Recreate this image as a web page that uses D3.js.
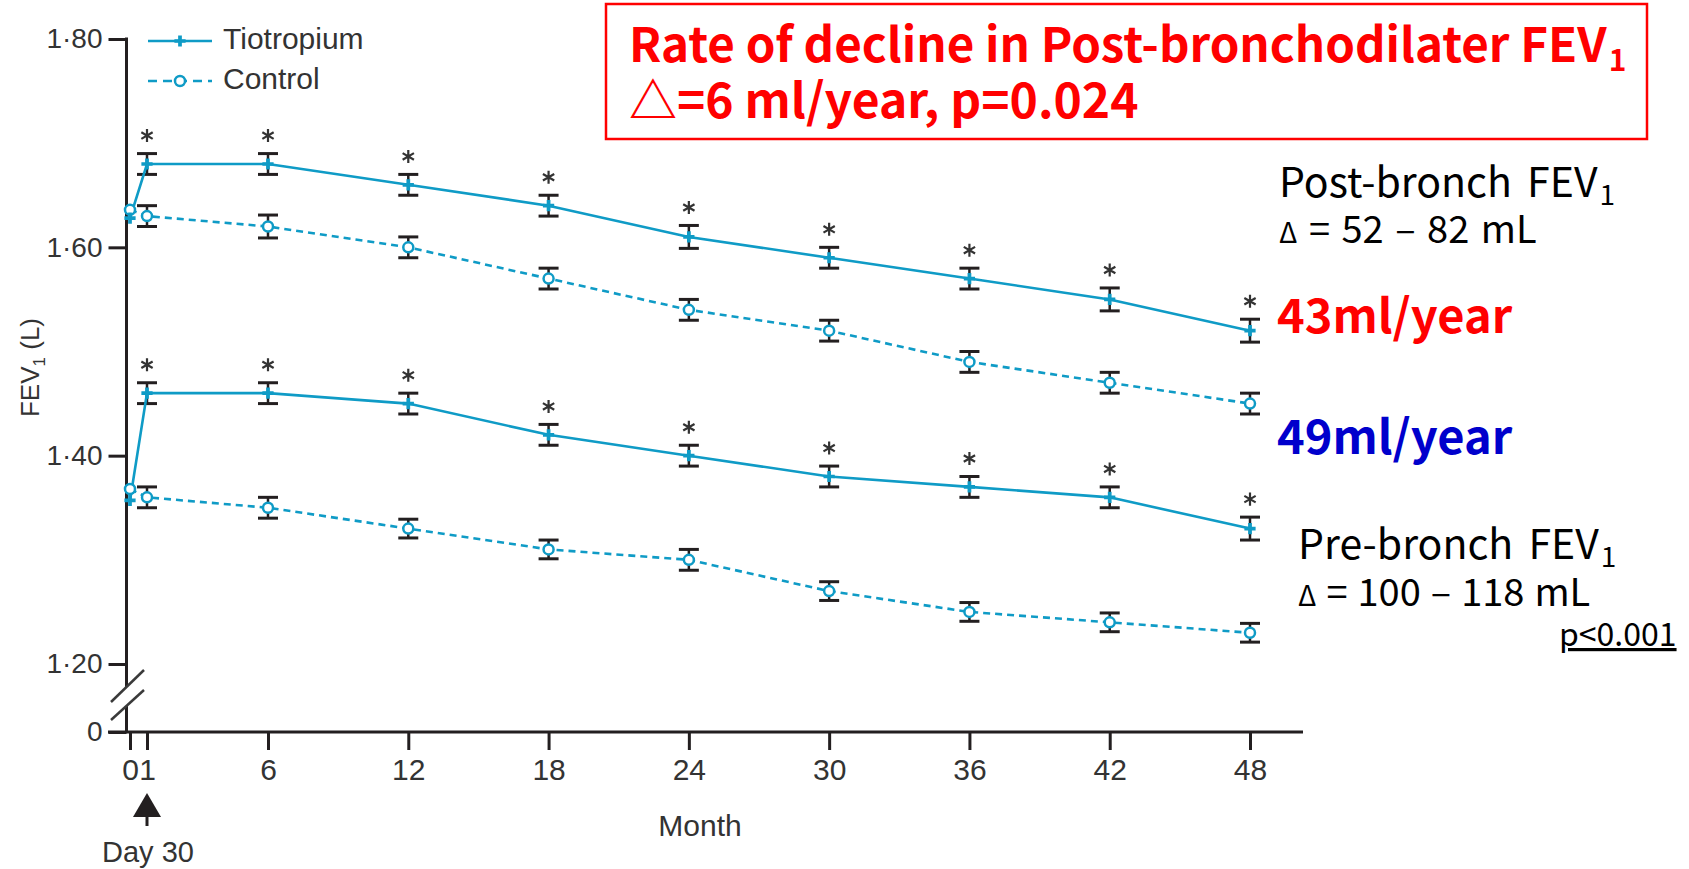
<!DOCTYPE html>
<html>
<head>
<meta charset="utf-8">
<script src="https://cdn.jsdelivr.net/npm/d3@7"></script>
<style>
  body { margin: 0; background: #fff; }
  svg { display: block; }
</style>
</head>
<body>
<div id="chart"></div>
<script>
// months of follow-up (1 = day 30)
const months = [0, 1, 6, 12, 18, 24, 30, 36, 42, 48];
const yTicks = [0, 1.2, 1.4, 1.6, 1.8];

// FEV1 (L)
const postTio  = [1.628, 1.68, 1.68, 1.66, 1.64, 1.61, 1.59, 1.57, 1.55, 1.52];
const postCtrl = [1.636, 1.63, 1.62, 1.60, 1.57, 1.54, 1.52, 1.49, 1.47, 1.45];
const preTio   = [1.357, 1.46, 1.46, 1.45, 1.42, 1.40, 1.38, 1.37, 1.36, 1.33];
const preCtrl  = [1.368, 1.36, 1.35, 1.33, 1.31, 1.30, 1.27, 1.25, 1.24, 1.23];

// error bar half-widths (L)
const postTioErr  = [0, 0.010, 0.010, 0.010, 0.010, 0.011, 0.010, 0.010, 0.011, 0.011];
const postCtrlErr = [0, 0.010, 0.011, 0.010, 0.010, 0.010, 0.010, 0.010, 0.010, 0.010];
const preTioErr   = [0, 0.010, 0.010, 0.010, 0.010, 0.010, 0.010, 0.010, 0.010, 0.011];
const preCtrlErr  = [0, 0.010, 0.010, 0.009, 0.009, 0.010, 0.009, 0.009, 0.009, 0.009];

const W = 1689, H = 869;
const INK = '#231f20';
const LINE = '#0f9bc6';
const AX_FONT = '"Liberation Sans", Arial, sans-serif';
const KR_FONT = '"Noto Sans CJK KR", "Noto Sans", sans-serif';

const svg = d3.select('#chart').append('svg')
    .attr('width', W)
    .attr('height', H);

// the original figure stretches day 30 a little, so keep its spacing
const x = d3.scaleLinear().domain([0, 1, 6, 48]).range([130, 147, 268, 1250]);
const y = d3.scaleLinear().domain([0, 1.2, 1.8]).range([732, 664, 39]);

const axisX = 126.5;

// x axis
const gx = svg.append('g')
    .attr('transform', `translate(0,${y(0)})`)
    .call(d3.axisBottom(x).tickValues(months).tickSize(18).tickPadding(9).tickSizeOuter(0));
gx.select('.domain').remove();
gx.selectAll('line').attr('stroke', INK).attr('stroke-width', 3);
gx.selectAll('text')
    .attr('font-family', AX_FONT)
    .attr('font-size', 30)
    .attr('fill', '#333');
svg.append('line')
    .attr('x1', 108).attr('x2', 1303)
    .attr('y1', y(0)).attr('y2', y(0))
    .attr('stroke', INK).attr('stroke-width', 3);

// y axis with a break between 0 and 1.20
const gy = svg.append('g')
    .attr('transform', `translate(${axisX},0)`)
    .call(d3.axisLeft(y).tickValues(yTicks).tickSize(18).tickPadding(6)
        .tickFormat(v => v === 0 ? '0' : d3.format('.2f')(v).replace('.', '\u00b7')));
gy.select('.domain').remove();
gy.selectAll('line').attr('stroke', INK).attr('stroke-width', 3);
gy.selectAll('text')
    .attr('font-family', AX_FONT)
    .attr('font-size', 28)
    .attr('fill', '#333');

svg.append('line')
    .attr('x1', axisX).attr('x2', axisX)
    .attr('y1', y(1.8) - 1.5).attr('y2', y(0) - 45)
    .attr('stroke', INK).attr('stroke-width', 3);
svg.append('line')
    .attr('x1', axisX).attr('x2', axisX)
    .attr('y1', y(0) - 26).attr('y2', y(0))
    .attr('stroke', INK).attr('stroke-width', 3);
[[-30, -62], [-12, -42]].forEach(([a, b]) => {
    svg.append('line')
        .attr('x1', axisX - 15.5).attr('y1', y(0) + a)
        .attr('x2', axisX + 17.5).attr('y2', y(0) + b)
        .attr('stroke', '#3a3a3a').attr('stroke-width', 2.5);
});

// y label
const ylab = svg.append('text')
    .attr('transform', `translate(39,${(y(1.4) + y(1.6)) / 2 + 16}) rotate(-90)`)
    .attr('text-anchor', 'middle')
    .attr('font-family', AX_FONT)
    .attr('font-size', 26)
    .attr('fill', '#333');
ylab.append('tspan').text('FEV');
ylab.append('tspan').attr('font-size', 17).attr('dy', 6).text('1');
ylab.append('tspan').attr('dy', -6).text(' (L)');

// x label and day-30 arrow
svg.append('text')
    .attr('x', 700).attr('y', 836)
    .attr('text-anchor', 'middle')
    .attr('font-family', AX_FONT)
    .attr('font-size', 30)
    .attr('fill', '#333')
    .text('Month');

const ax = x(1);
svg.append('line')
    .attr('x1', ax).attr('x2', ax)
    .attr('y1', 826).attr('y2', 810)
    .attr('stroke', INK).attr('stroke-width', 3);
svg.append('path')
    .attr('d', `M${ax},793 L${ax - 14},817 L${ax + 14},817 Z`)
    .attr('fill', INK);
svg.append('text')
    .attr('x', ax + 1).attr('y', 862)
    .attr('text-anchor', 'middle')
    .attr('font-family', AX_FONT)
    .attr('font-size', 29)
    .attr('fill', '#333')
    .text('Day 30');

// series
const line = d3.line()
    .x((d, i) => x(months[i]))
    .y(d => y(d));

const errLayer = svg.append('g');
const lineLayer = svg.append('g');
const markLayer = svg.append('g');

const plusSym = d3.symbol().type(d3.symbolCross).size(70);
const starSym = d3.symbol().type(d3.symbolAsterisk || d3.symbolCross).size(120);

function drawSeries(values, errs, dashed, tio) {
    values.forEach((v, i) => {
        const e = errs[i];
        if (!e) return;
        const cx = x(months[i]);
        errLayer.append('line')
            .attr('x1', cx).attr('x2', cx)
            .attr('y1', y(v - e)).attr('y2', y(v + e))
            .attr('stroke', INK).attr('stroke-width', 2.5);
        [v - e, v + e].forEach(c => {
            errLayer.append('line')
                .attr('x1', cx - 10).attr('x2', cx + 10)
                .attr('y1', y(c)).attr('y2', y(c))
                .attr('stroke', INK).attr('stroke-width', 3);
        });
        if (tio) {
            markLayer.append('path')
                .attr('d', starSym())
                .attr('transform', `translate(${cx},${y(v + e) - 18})`)
                .attr('fill', '#333')
                .attr('stroke', '#333')
                .attr('stroke-width', 2.2);
        }
    });

    lineLayer.append('path')
        .datum(values)
        .attr('d', line)
        .attr('fill', 'none')
        .attr('stroke', LINE)
        .attr('stroke-width', 2.6)
        .attr('stroke-dasharray', dashed ? '7,5' : null);

    values.forEach((v, i) => {
        const cx = x(months[i]);
        if (tio) {
            markLayer.append('path')
                .attr('d', plusSym())
                .attr('transform', `translate(${cx},${y(v)})`)
                .attr('fill', LINE);
        } else {
            markLayer.append('circle')
                .attr('cx', cx).attr('cy', y(v))
                .attr('r', 5)
                .attr('fill', '#fff')
                .attr('stroke', LINE)
                .attr('stroke-width', 2.5);
        }
    });
}

drawSeries(postCtrl, postCtrlErr, true, false);
drawSeries(postTio, postTioErr, false, true);
drawSeries(preCtrl, preCtrlErr, true, false);
drawSeries(preTio, preTioErr, false, true);

// legend
const legend = svg.append('g');
[['Tiotropium', false, 41], ['Control', true, 81]].forEach(([name, dashed, ly]) => {
    legend.append('line')
        .attr('x1', 148).attr('x2', 212)
        .attr('y1', ly).attr('y2', ly)
        .attr('stroke', LINE).attr('stroke-width', 2.6)
        .attr('stroke-dasharray', dashed ? '9,6' : null);
    if (dashed) {
        legend.append('circle')
            .attr('cx', 180).attr('cy', ly).attr('r', 5)
            .attr('fill', '#fff').attr('stroke', LINE).attr('stroke-width', 2.5);
    } else {
        legend.append('path')
            .attr('d', plusSym())
            .attr('transform', `translate(180,${ly})`)
            .attr('fill', LINE);
    }
    legend.append('text')
        .attr('x', 223).attr('y', ly + 8)
        .attr('font-family', AX_FONT)
        .attr('font-size', 30)
        .attr('fill', '#333')
        .text(name);
});

// text followed by a subscript placed just after its measured end
function withSub(x0, yb, main, sub, size, subSize, weight, color, spacing) {
    const t = svg.append('text')
        .attr('x', x0).attr('y', yb)
        .attr('font-family', KR_FONT)
        .attr('font-weight', weight)
        .attr('font-size', size)
        .attr('word-spacing', spacing || 0)
        .attr('fill', color)
        .text(main);
    const end = x0 + t.node().getComputedTextLength();
    svg.append('text')
        .attr('x', end + 2).attr('y', yb + subSize * 0.3)
        .attr('font-family', KR_FONT)
        .attr('font-weight', weight)
        .attr('font-size', subSize)
        .attr('fill', color)
        .text(sub);
}

// red headline box
svg.append('rect')
    .attr('x', 606).attr('y', 4)
    .attr('width', 1041).attr('height', 135)
    .attr('fill', 'none')
    .attr('stroke', '#ff0000')
    .attr('stroke-width', 2.5);

withSub(629, 62, 'Rate of decline in Post-bronchodilater FEV', '1', 47.5, 30, 700, '#ff0000');

svg.append('text')
    .attr('x', 629).attr('y', 118)
    .attr('font-family', KR_FONT)
    .attr('font-weight', 700)
    .attr('font-size', 48)
    .attr('fill', '#ff0000')
    .text('\u25b3=6 ml/year, p=0.024');

// right-hand notes
function deltaNote(range, x0, yb, spacing) {
    const t = svg.append('text')
        .attr('x', x0).attr('y', yb)
        .attr('font-family', KR_FONT)
        .attr('font-size', 38)
        .attr('word-spacing', spacing)
        .attr('fill', '#000');
    t.append('tspan').attr('font-size', 28).text('\u0394');
    t.append('tspan').text(' = ' + range + ' mL');
}
withSub(1279, 197, 'Post-bronch FEV', '1', 41, 28, 400, '#000', 6);
deltaNote('52 \u2013 82', 1279, 243, 3);
withSub(1298, 559, 'Pre-bronch FEV', '1', 41, 28, 400, '#000', 6);
deltaNote('100 \u2013 118', 1298, 606, 1.5);

svg.append('text')
    .attr('x', 1277).attr('y', 333)
    .attr('font-family', KR_FONT)
    .attr('font-weight', 700)
    .attr('font-size', 47)
    .attr('fill', '#ff0000')
    .text('43ml/year');
svg.append('text')
    .attr('x', 1277).attr('y', 454)
    .attr('font-family', KR_FONT)
    .attr('font-weight', 700)
    .attr('font-size', 47)
    .attr('fill', '#0000cc')
    .text('49ml/year');

svg.append('text')
    .attr('x', 1559).attr('y', 646)
    .attr('font-family', KR_FONT)
    .attr('font-size', 32)
    .attr('fill', '#000')
    .attr('text-decoration', 'underline')
    .text('p<0.001');
</script>
</body>
</html>
